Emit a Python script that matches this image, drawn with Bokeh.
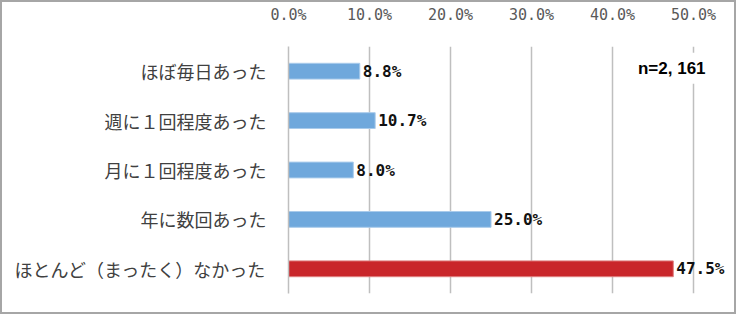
from bokeh.plotting import figure
from bokeh.models import ColumnDataSource, FactorRange, PrintfTickFormatter, FixedTicker
from bokeh.core.properties import value
from bokeh.embed import file_html
from bokeh.resources import INLINE

categories = ["ほぼ毎日あった", "週に１回程度あった", "月に１回程度あった", "年に数回あった", "ほとんど（まったく）なかった"]
values = [8.8, 10.7, 8.0, 25.0, 47.5]
labels = ["8.8%", "10.7%", "8.0%", "25.0%", "47.5%"]
colors = ["#6FA8DC", "#6FA8DC", "#6FA8DC", "#6FA8DC", "#C9262A"]
edge = ["#A9CBEB", "#A9CBEB", "#A9CBEB", "#A9CBEB", "#E08080"]
ticks = [0, 10, 20, 30, 40, 50]
note = "n=2, 161"

src = ColumnDataSource(dict(cat=categories, val=values, lbl=labels, col=colors, edge=edge))

p = figure(width=736, height=314, y_range=FactorRange(*reversed(categories)), x_range=(0, 55.55),
           output_backend="svg", toolbar_location=None, x_axis_location="above",
           min_border_left=286, min_border_top=43, min_border_right=0, min_border_bottom=23)
p.styles = {"border": "2px solid #A6A6A6"}
p.outline_line_color = None
p.background_fill_color = "white"

p.hbar(y="cat", right="val", left=0, height=0.32, fill_color="col", line_color="edge", line_width=1, source=src)
p.text(x="val", y="cat", text="lbl", x_offset=3, text_baseline="middle", text_align="left",
       text_font=value("DejaVu Sans Mono"), text_font_size="16px", text_font_style="bold",
       text_color="#111111", source=src)

p.text(x=[42.4], y=[categories[0]], text=[note], y_offset=-3, text_baseline="middle", text_align="left",
       text_font=value("Liberation Sans"), text_font_size="17px", text_font_style="bold",
       text_color="#000000", background_fill_color="white", padding=6)

xa = p.xaxis[0]
xa.ticker = FixedTicker(ticks=ticks)
xa.formatter = PrintfTickFormatter(format="%.1f%%")
xa.axis_line_color = None
xa.major_tick_line_color = None
xa.minor_tick_line_color = None
xa.major_label_standoff = 17
xa.major_label_text_font = "DejaVu Sans Mono"
xa.major_label_text_font_size = "15px"
xa.major_label_text_color = "#595959"

ya = p.yaxis[0]
ya.axis_line_color = "#BFBFBF"
ya.axis_line_width = 1.5
ya.major_tick_line_color = None
ya.minor_tick_line_color = None
ya.major_label_standoff = 16
ya.major_label_text_font = "Noto Sans CJK JP"
ya.major_label_text_font_size = "18px"
ya.major_label_text_color = "#404040"

p.xgrid.ticker = FixedTicker(ticks=ticks[1:])
p.xgrid.grid_line_color = "#BFBFBF"
p.xgrid.grid_line_width = 1.5
p.ygrid.grid_line_color = None

open("out.html", "w").write(file_html(p, INLINE))
